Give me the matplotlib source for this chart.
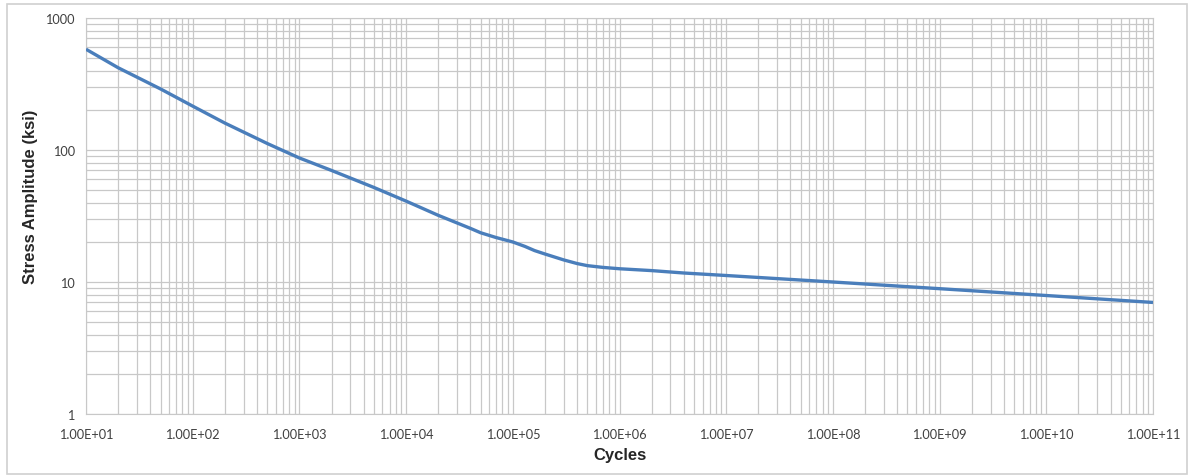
import numpy as np
from matplotlib import pyplot as plt
from matplotlib.patches import Rectangle
from matplotlib.ticker import LogLocator, FixedLocator, FuncFormatter, NullFormatter

# S-N curve
cycles = [1e1, 2e1, 5e1, 1e2, 2e2, 5e2, 1e3, 2e3, 5e3, 1e4, 2e4, 4e4, 5e4, 7e4,
          1e5, 1.3e5, 1.6e5, 2e5, 3e5, 4e5, 5e5, 7e5, 1e6, 2e6, 4e6, 1e7,
          1e8, 1e9, 1e10, 1e11]
stress = [580, 420, 290, 215, 160, 112, 87, 70, 52, 41, 32, 25.5, 23.6, 21.7,
          20.1, 18.6, 17.3, 16.3, 14.7, 13.8, 13.3, 12.9, 12.6, 12.2, 11.7, 11.2,
          10.0, 8.9, 7.9, 7.0]
x_ticks = [1e1, 1e2, 1e3, 1e4, 1e5, 1e6, 1e7, 1e8, 1e9, 1e10, 1e11]
y_ticks = [1, 10, 100, 1000]

plt.rcParams['font.family'] = ['Lato', 'DejaVu Sans']

fig = plt.figure(figsize=(11.9, 4.77), dpi=100)
ax = fig.add_axes([86 / 1190, 1 - 415 / 477, 1067 / 1190, 396 / 477])

ax.plot(cycles, stress, color='#4A7EBB', lw=2.4, solid_capstyle='butt',
        solid_joinstyle='round', zorder=3)

ax.set_xscale('log')
ax.set_yscale('log')
ax.set_xlim(1e1, 1e11)
ax.set_ylim(1, 1000)

ax.xaxis.set_major_locator(FixedLocator(x_ticks))
ax.yaxis.set_major_locator(FixedLocator(y_ticks))
ax.xaxis.set_minor_locator(LogLocator(base=10, subs=np.arange(2, 10), numticks=200))
ax.yaxis.set_minor_locator(LogLocator(base=10, subs=np.arange(2, 10), numticks=100))
ax.xaxis.set_minor_formatter(NullFormatter())
ax.yaxis.set_minor_formatter(NullFormatter())
ax.xaxis.set_major_formatter(FuncFormatter(lambda v, p: '{:.2E}'.format(v)))
ax.yaxis.set_major_formatter(FuncFormatter(lambda v, p: '{:g}'.format(v)))

ax.grid(True, which='both', color='#c8c8c8', lw=0.9)
ax.set_axisbelow(True)
for s in ax.spines.values():
    s.set_color('#c8c8c8')
ax.tick_params(which='both', length=0, labelsize=9.2, colors='#404040')
ax.tick_params(axis='x', pad=10)
ax.tick_params(axis='y', pad=8)

ax.set_xlabel('Cycles', fontsize=12, fontweight='bold', color='#262626',
              family=['Liberation Sans', 'DejaVu Sans'])
ax.xaxis.set_label_coords(0.5, (415 - 456) / 396, transform=ax.transAxes)
ax.xaxis.label.set_va('center')
ax.set_ylabel('Stress Amplitude (ksi)', fontsize=12, fontweight='bold',
              color='#262626', family=['Liberation Sans', 'DejaVu Sans'])
ax.yaxis.set_label_coords((30 - 86) / 1067, (415 - 197) / 396)
ax.yaxis.label.set_va('center')

fig.patches.append(Rectangle((7 / 1190, 2 / 477), 1180 / 1190, 470 / 477,
                             transform=fig.transFigure, fill=False,
                             edgecolor='#d0d0d0', lw=1.2))

fig.savefig('out.png', dpi=100)
